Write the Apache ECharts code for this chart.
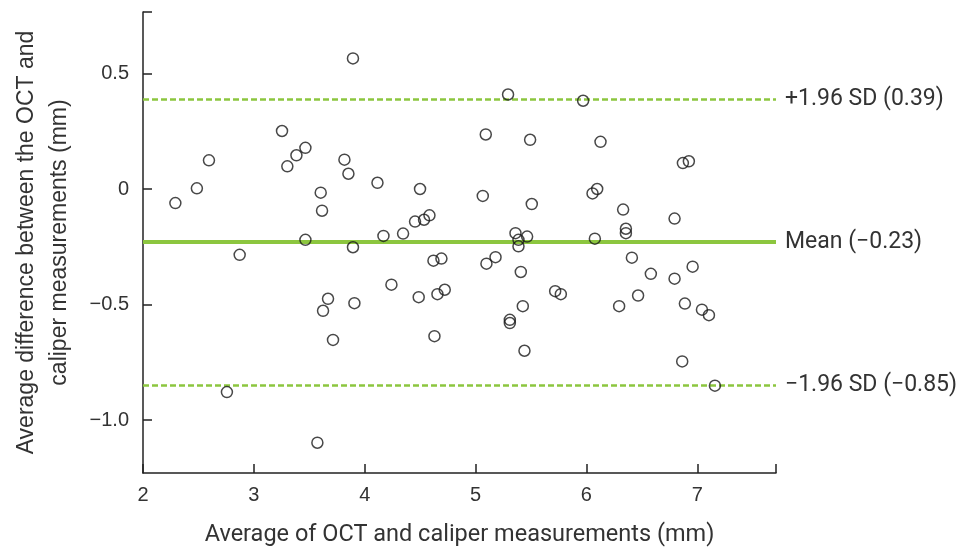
<!DOCTYPE html>
<html>
<head>
<meta charset="utf-8">
<script src="https://cdn.jsdelivr.net/npm/echarts@6/dist/echarts.min.js"></script>
<style>
html,body{margin:0;padding:0;background:#fff;}
#main{width:971px;height:547px;}
</style>
</head>
<body>
<div id="main"></div>
<script>
// Bland-Altman data: x = average of OCT and caliper (mm), y = difference (mm)
const avgValues = [3.894,3.254,3.465,3.384,3.302,2.595,2.486,2.292,3.817,3.853,3.603,3.615,4.115,4.499,4.454,4.535,4.584,4.346,4.169,3.465,3.894,
  5.293,5.970,5.092,5.492,6.127,6.870,6.924,5.065,5.507,6.055,6.097,6.331,6.795,6.356,6.356,6.076,5.360,5.465,5.387,5.387,
  5.098,5.180,5.408,5.718,5.769,5.426,5.309,5.309,5.441,6.410,6.581,6.795,6.958,6.466,6.295,6.888,7.042,7.105,6.864,7.159,
  2.872,2.757,3.573,3.669,3.624,3.714,3.907,4.241,4.487,4.656,4.722,4.620,4.692,4.629];
const diffValues = [0.565,0.251,0.178,0.146,0.098,0.124,0.003,-0.061,0.127,0.066,-0.016,-0.094,0.027,0.0,-0.141,-0.133,-0.114,-0.193,-0.203,-0.220,-0.252,
  0.409,0.382,0.236,0.213,0.204,0.112,0.120,-0.030,-0.065,-0.019,0.0,-0.089,-0.128,-0.172,-0.191,-0.215,-0.191,-0.206,-0.220,-0.248,
  -0.323,-0.295,-0.359,-0.442,-0.455,-0.507,-0.566,-0.580,-0.700,-0.297,-0.367,-0.388,-0.336,-0.461,-0.507,-0.496,-0.522,-0.546,-0.746,-0.851,
  -0.285,-0.879,-1.098,-0.475,-0.527,-0.653,-0.494,-0.414,-0.468,-0.455,-0.436,-0.310,-0.301,-0.637];

const meanDiff = -0.227;
const upperLoA = 0.393;
const lowerLoA = -0.848;
const lineLabels = ['+1.96 SD (0.39)', 'Mean (\u22120.23)', '\u22121.96 SD (\u22120.85)'];

const xTicks = [2, 3, 4, 5, 6, 7];
const yTicks = [-1.0, -0.5, 0, 0.5];
const xRange = [2, 7.71];
const yRange = [-1.229, 0.766];

const xTitle = 'Average of OCT and caliper measurements (mm)';
const yTitle = 'Average difference between the OCT and\ncaliper measurements (mm)';

const green = '#8cc63f';
const ink = '#222';
const txt = '#333';

function fmtY(v) {
  if (Math.abs(v) < 1e-9) return '0';
  const s = Math.abs(v).toFixed(1);
  return (v < 0 ? '\u2212' : '') + s;
}

const points = avgValues.map((x, i) => [x, diffValues[i]]);

const chart = echarts.init(document.getElementById('main'), null, {renderer: 'canvas'});
chart.setOption({
  animation: false,
  backgroundColor: '#fff',
  grid: {left: 143, right: 195, top: 12, bottom: 74, containLabel: false, outerBoundsMode: 'none'},
  xAxis: {
    type: 'value',
    min: xRange[0], max: xRange[1],
    name: xTitle,
    nameLocation: 'middle',
    nameGap: 50,
    nameTextStyle: {fontFamily: 'Roboto', fontSize: 23.5, color: txt},
    axisLine: {show: true, onZero: false, lineStyle: {color: ink, width: 1.5}},
    axisTick: {show: true, inside: true, length: 9, lineStyle: {color: ink, width: 1.5},
      customValues: xTicks.concat([xRange[1]])},
    axisLabel: {show: true, margin: 12, fontFamily: 'Liberation Sans', fontSize: 20, color: txt,
      customValues: xTicks, formatter: v => String(v)},
    splitLine: {show: false}
  },
  yAxis: {
    type: 'value',
    min: yRange[0], max: yRange[1],
    name: yTitle,
    nameLocation: 'middle',
    nameRotate: 90,
    nameGap: 67,
    nameTextStyle: {fontFamily: 'Liberation Sans', fontSize: 23, color: txt, lineHeight: 33, align: 'center'},
    axisLine: {show: true, onZero: false, lineStyle: {color: ink, width: 1.5}},
    axisTick: {show: true, inside: true, length: 9, lineStyle: {color: ink, width: 1.5},
      customValues: yTicks.concat([yRange[1]])},
    axisLabel: {show: true, margin: 14, fontFamily: 'Liberation Sans', fontSize: 20, color: txt,
      customValues: yTicks, formatter: fmtY},
    splitLine: {show: false}
  },
  series: [{
    type: 'scatter',
    data: points,
    symbol: 'circle',
    symbolSize: 11,
    itemStyle: {color: 'rgba(0,0,0,0)', borderColor: '#1a1a1a', borderWidth: 1.5},
    z: 3,
    markLine: {
      silent: true,
      symbol: 'none',
      z: 2,
      label: {show: true, position: 'end', distance: 9, fontFamily: 'Roboto', fontSize: 23, color: txt},
      data: [
        {yAxis: upperLoA, lineStyle: {color: green, width: 2.5, type: [6, 3]}, label: {formatter: lineLabels[0]}},
        {yAxis: meanDiff, lineStyle: {color: green, width: 4, type: 'solid'}, label: {formatter: lineLabels[1]}},
        {yAxis: lowerLoA, lineStyle: {color: green, width: 2.5, type: [6, 3]}, label: {formatter: lineLabels[2]}}
      ]
    }
  }]
});
</script>
</body>
</html>
